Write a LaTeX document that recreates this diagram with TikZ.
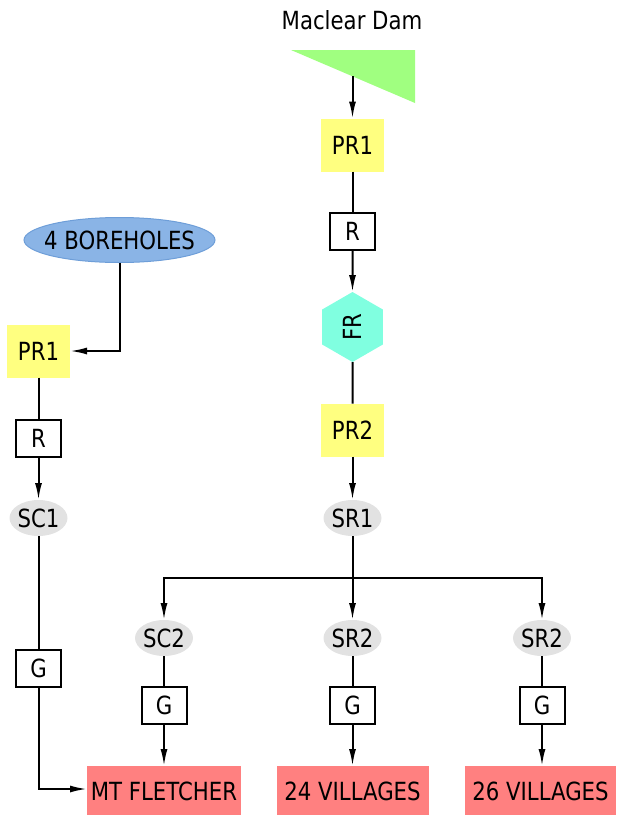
\documentclass[tikz,border=0pt]{standalone}
\usepackage{fontspec}
\setmainfont{DejaVu Sans}[FakeStretch=0.85]
\usetikzlibrary{arrows.meta,shapes.geometric}
\definecolor{yfill}{HTML}{FFFF80}
\definecolor{gfill}{HTML}{E2E2E2}
\definecolor{rfill}{HTML}{FF8080}
\definecolor{afill}{HTML}{80FFE0}
\definecolor{damfill}{HTML}{A0FF80}
\definecolor{bfill}{HTML}{8AB4E6}
\definecolor{bdraw}{HTML}{6E9ED8}
\begin{document}
\begin{tikzpicture}[x=1pt,y=-1pt,
  every node/.style={font=\fontsize{25}{29}\selectfont, inner sep=0pt, outer sep=0pt},
  box/.style={draw, line width=2pt, minimum width=45pt, minimum height=37pt},
  yel/.style={fill=yfill, minimum width=63pt, minimum height=53pt},
  ell/.style={ellipse, fill=gfill, minimum width=58pt, minimum height=36pt, inner xsep=-8pt, inner ysep=-8pt},
  dest/.style={fill=rfill, minimum height=50pt},
  hex/.style={regular polygon, regular polygon sides=6, minimum size=70pt, fill=afill, rotate=90},
  ln/.style={line width=2pt},
  arr/.style={ln, -{Latex[length=17pt,width=7pt]}}]
\useasboundingbox (0,0) rectangle (617,815);
% right column
\node (title) at (352,20) {Maclear Dam};
\fill[damfill] (291,50) -- (415,50) -- (415,103) -- cycle;
\coordinate (dam) at (352.5,76);
\node[yel] (pr1r) at (352.5,145) {PR1};
\node[box] (rr) at (352.5,231.5) {R};
\node[hex] (fr) at (352.5,327) {FR};
\node[yel] (pr2) at (352.5,430) {PR2};
\node[ell] (sr1) at (352.5,518) {SR1};
\coordinate (split) at (352.5,578);
\node[ell] (sc2) at (164,638) {SC2};
\node[ell] (sr2a) at (352.5,638) {SR2};
\node[ell] (sr2b) at (542,638) {SR2};
\node[box] (g1) at (164,705.5) {G};
\node[box] (g2) at (352.5,705.5) {G};
\node[box] (g3) at (542,705.5) {G};
\node[dest, minimum width=154pt] (mt) at (164,791) {MT FLETCHER};
\node[dest, minimum width=152pt] (v24) at (352.5,791) {24 VILLAGES};
\node[dest, minimum width=151pt] (v26) at (540.5,791) {26 VILLAGES};
% left column
\node[ellipse, fill=bfill, draw=bdraw, line width=1pt, minimum width=191pt, minimum height=45pt, inner xsep=-16pt, inner ysep=-10pt] (bh) at (119.5,240) {4 BOREHOLES};
\node[yel] (pr1l) at (38.5,351) {PR1};
\node[box] (rl) at (38.5,438) {R};
\node[ell] (sc1) at (38.5,518) {SC1};
\node[box] (gl) at (38.5,668) {G};
% connectors
\draw[arr] (dam) -- (pr1r.north);
\draw[ln] (pr1r.south) -- (rr.north);
\draw[arr] (rr) -- (fr);
\draw[ln] (fr) -- (pr2.north);
\draw[arr] (pr2.south) -- (sr1.north);
\draw[ln] (sr1.south) -- (split);
\draw[arr] (split) -| (sc2.north);
\draw[arr] (split) -- (sr2a.north);
\draw[arr] (split) -| (sr2b.north);
\draw[ln] (sc2.south) -- (g1.north);
\draw[ln] (sr2a.south) -- (g2.north);
\draw[ln] (sr2b.south) -- (g3.north);
\draw[arr] (g1.south) -- (mt.north);
\draw[arr] (g2.south) -- (v24.north);
\draw[arr] (g3.south) -- (g3.south |- v26.north);
\draw[arr] (bh.south) |- (pr1l.east);
\draw[ln] (pr1l.south) -- (rl.north);
\draw[arr] (rl.south) -- (sc1.north);
\draw[ln] (sc1.south) -- (gl.north);
\draw[arr] (gl.south) |- ([yshift=2pt]mt.west);
\end{tikzpicture}
\end{document}
